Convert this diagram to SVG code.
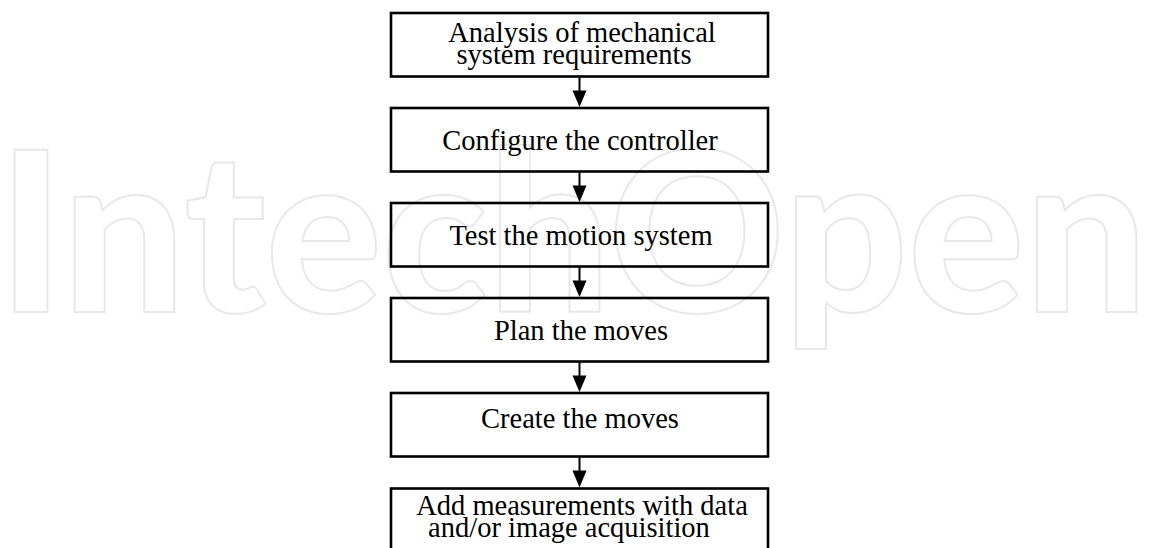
<svg xmlns="http://www.w3.org/2000/svg" width="1151" height="548" viewBox="0 0 1151 548">
<style>
.wm{font-family:Lato,"Open Sans",sans-serif;font-size:223px;font-weight:900;fill:none;stroke:#e8e8e8;stroke-width:2}
.box{fill:none;stroke:#000;stroke-width:2.6}
.lbl{font-family:"Liberation Serif","Times New Roman",serif;font-size:28.5px;fill:#000;text-anchor:middle}
.conn line{stroke:#000;stroke-width:2}
.conn polygon{fill:#000}
</style>
<rect width="1151" height="548" fill="#fff"/>
<text class="wm" x="-2" y="312" textLength="1150" lengthAdjust="spacingAndGlyphs">IntechOpen</text>
<g id="node1"><rect class="box" x="391" y="13" width="377" height="63.5"/><text class="lbl" x="582" y="41.5">Analysis of mechanical</text><text class="lbl" x="574" y="64">system requirements</text></g>
<g id="node2"><rect class="box" x="391" y="108" width="377" height="63.5"/><text class="lbl" x="580" y="150">Configure the controller</text></g>
<g id="node3"><rect class="box" x="391" y="203" width="377" height="63.5"/><text class="lbl" x="581" y="245">Test the motion system</text></g>
<g id="node4"><rect class="box" x="391" y="298" width="377" height="63.5"/><text class="lbl" x="581" y="340">Plan the moves</text></g>
<g id="node5"><rect class="box" x="391" y="393" width="377" height="63.5"/><text class="lbl" x="580" y="428">Create the moves</text></g>
<g id="node6"><rect class="box" x="391" y="488.5" width="377" height="70"/><text class="lbl" x="582" y="515">Add measurements with data</text><text class="lbl" x="569" y="536.5">and/or image acquisition</text></g>
<g id="connectors" class="conn">
<line x1="579.5" y1="77" x2="579.5" y2="92"/><polygon points="572.5,90.5 586.5,90.5 579.5,107"/>
<line x1="579.5" y1="172" x2="579.5" y2="187"/><polygon points="572.5,185.5 586.5,185.5 579.5,202"/>
<line x1="579.5" y1="267" x2="579.5" y2="282"/><polygon points="572.5,280.5 586.5,280.5 579.5,297"/>
<line x1="579.5" y1="362" x2="579.5" y2="377"/><polygon points="572.5,375.5 586.5,375.5 579.5,392"/>
<line x1="579.5" y1="457" x2="579.5" y2="472"/><polygon points="572.5,470.5 586.5,470.5 579.5,487.5"/>
</g>
</svg>
